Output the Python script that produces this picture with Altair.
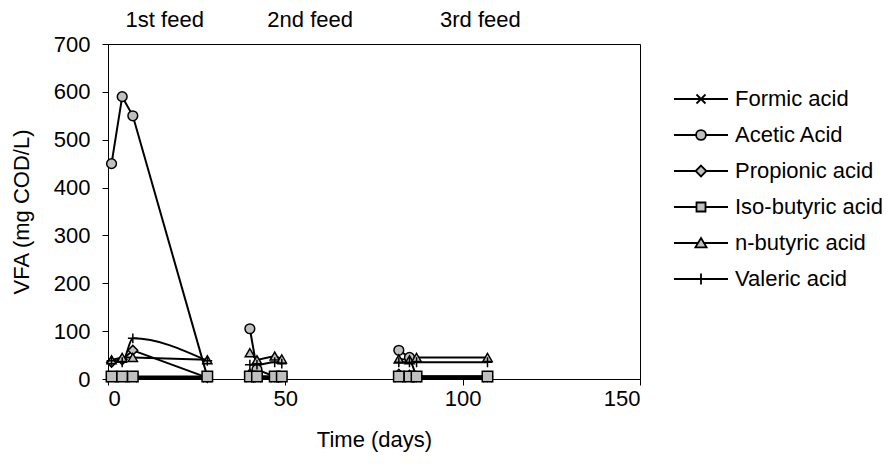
import altair as alt
import pandas as pd

# ---- data ----
days_feed1 = [1, 4, 7, 28]
days_feed2 = [40, 42, 47, 49]
days_feed3 = [82, 85, 87, 107]

acids = ["Formic acid", "Acetic Acid", "Propionic acid",
         "Iso-butyric acid", "n-butyric acid", "Valeric acid"]

formic = [2, 2, 2, 2, 2, 2, 2, 2, 2, 2, 2, 2]
acetic = [450, 590, 550, 5, 105, 20, 5, 5, 60, 45, 5, 5]
propionic = [35, 40, 60, 3, 10, 6, 5, 5, 10, 8, 5, 5]
isobutyric = [5, 5, 5, 5, 5, 5, 5, 5, 5, 5, 5, 5]
nbutyric = [40, 45, 45, 40, 55, 40, 48, 42, 42, 40, 45, 45]
valeric = [38, 35, 85, 38, 30, 30, 35, 32, 35, 35, 35, 35]

feed_names = ["1st feed", "2nd feed", "3rd feed"]
feed_label_x = [16, 57, 105]

series_values = [formic, acetic, propionic, isobutyric, nbutyric, valeric]
days = days_feed1 + days_feed2 + days_feed3
feeds = ([feed_names[0]] * len(days_feed1) + [feed_names[1]] * len(days_feed2)
         + [feed_names[2]] * len(days_feed3))

rows = []
for i, (acid, vals) in enumerate(zip(acids, series_values)):
    for t, v, f in zip(days, vals, feeds):
        rows.append({"time": t, "value": v, "acid": acid, "feed": f, "order": i})
df = pd.DataFrame(rows)
labels_df = pd.DataFrame({"label": feed_names, "x": feed_label_x})

marker_shapes = [
    "M-1,-1L1,1M-1,1L1,-1",
    "circle",
    "diamond",
    "square",
    "triangle-up",
    "M-1.1,0H1.1M0,-1.1V1.1",
]
marker_sizes = [70, 95, 95, 110, 85, 80]
legend_paths = [
    "M-3,0H3M-0.5,-0.5L0.5,0.5M-0.5,0.5L0.5,-0.5",
    "M-3,0H-0.55M0.55,0H3M-0.55,0A0.55,0.55 0 1,0 0.55,0A0.55,0.55 0 1,0 -0.55,0Z",
    "M-3,0H-0.6M0.6,0H3M0,-0.6L0.6,0L0,0.6L-0.6,0Z",
    "M-3,0H-0.5M0.5,0H3M-0.5,-0.5H0.5V0.5H-0.5Z",
    "M-3,0H-0.32M0.32,0H3M0,-0.55L0.62,0.48L-0.62,0.48Z",
    "M-3,0H3M0,-0.6V0.6",
]

FONT = "Liberation Sans"
FS = 22

x_enc = alt.X("time:Q", scale=alt.Scale(domain=[0, 150], nice=False),
              axis=alt.Axis(values=[0, 50, 100, 150], title="Time (days)",
                            grid=False, titlePadding=20, labelPadding=3))
y_enc = alt.Y("value:Q", scale=alt.Scale(domain=[0, 700], nice=False),
              axis=alt.Axis(values=list(range(0, 701, 100)), title="VFA (mg COD/L)",
                            grid=False, titlePadding=20, labelPadding=12))

base = alt.Chart(df)

lines_lin = base.transform_filter(alt.datum.acid != "Valeric acid").mark_line(
    color="black", strokeWidth=2).encode(
    x=x_enc, y=y_enc, detail=["acid:N", "feed:N"], order="time:Q")

lines_smooth = base.transform_filter(alt.datum.acid == "Valeric acid").mark_line(
    color="black", strokeWidth=2, interpolate="monotone").encode(
    x=x_enc, y=y_enc, detail=["acid:N", "feed:N"], order="time:Q")

marker_layers = []
for acid, shp, sz in zip(acids, marker_shapes, marker_sizes):
    marker_layers.append(
        base.transform_filter(alt.datum.acid == acid).mark_point(
            shape=shp, size=sz, fill="#c0c0c0", stroke="black", strokeWidth=1.5,
            filled=False, opacity=1, fillOpacity=1).encode(x=x_enc, y=y_enc)
    )

leg = alt.Legend(title=None, orient="none", legendX=565, legendY=44,
                 symbolSize=324, symbolStrokeWidth=1.8,
                 symbolOffset=17, labelOffset=23,
                 labelFontSize=FS, labelFont=FONT,
                 labelColor="black", rowPadding=14,
                 symbolFillColor="#c0c0c0", symbolStrokeColor="black")

legend_layer = base.transform_filter(alt.datum.value < -1000).mark_point(
    fill="#c0c0c0", strokeWidth=1.8, filled=False,
    opacity=1, fillOpacity=1).encode(
    x=x_enc, y=y_enc,
    shape=alt.Shape("acid:N", scale=alt.Scale(domain=acids, range=legend_paths),
                    legend=leg),
    stroke=alt.Stroke("acid:N", scale=alt.Scale(domain=acids, range=["black"] * 6),
                      legend=leg))

feed_text = alt.Chart(labels_df).mark_text(fontSize=FS, font=FONT, color="black",
                                           baseline="middle", align="center").encode(
    x=alt.X("x:Q", scale=alt.Scale(domain=[0, 150], nice=False)),
    y=alt.value(-24),
    text="label:N")

chart = alt.layer(lines_lin, lines_smooth, *marker_layers, legend_layer, feed_text).properties(
    width=532, height=335,
    autosize=alt.AutoSizeParams(type="none"),
    padding={"left": 100, "top": 36, "right": 248, "bottom": 85},
    background="white",
).configure_view(
    stroke="black", strokeWidth=1
).configure_axis(
    labelFont=FONT, titleFont=FONT, labelFontSize=FS, titleFontSize=FS,
    labelColor="black", titleColor="black", domainColor="black", tickColor="black",
    titleFontWeight="normal", tickSize=6, domainWidth=1, tickWidth=1
)

chart.save("out.html", embed_options={"renderer": "svg", "actions": False})
